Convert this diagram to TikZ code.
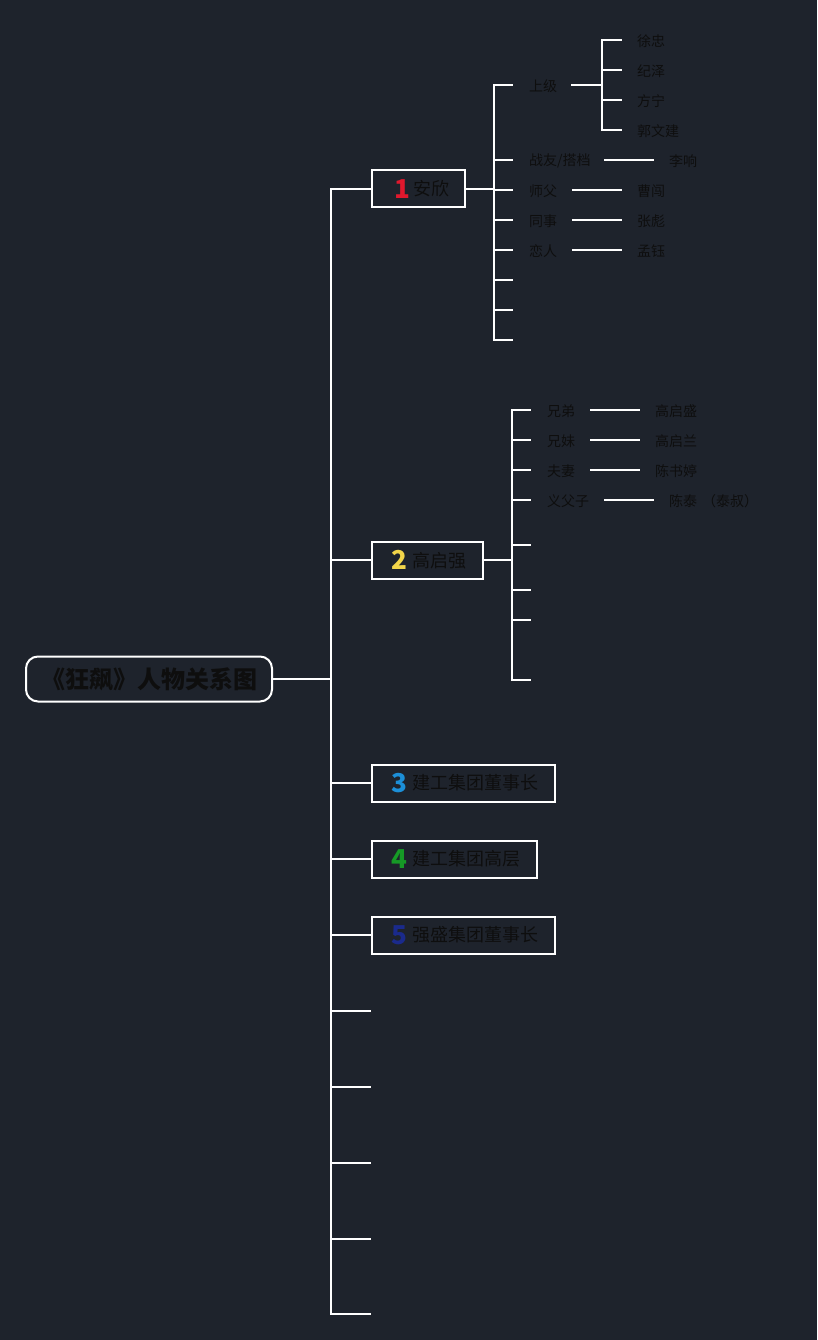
\documentclass[tikz,border=0pt]{standalone}
\usepackage{fontspec}
\setmainfont{Noto Sans CJK SC}
\definecolor{bg}{HTML}{1E232C}
\definecolor{txtc}{HTML}{0E0E0E}
\definecolor{cone}{HTML}{E0182D}
\definecolor{ctwo}{HTML}{F2D54A}
\definecolor{cthree}{HTML}{1C8FD8}
\definecolor{cfour}{HTML}{169A26}
\definecolor{cfive}{HTML}{1A2A8C}
\newcommand{\dig}[2]{\raisebox{-2.5pt}{\color{#1}\bfseries\fontsize{26}{26}\selectfont #2}}
\begin{document}
\begin{tikzpicture}[x=1pt,y=-1pt,
  ln/.style={draw=white,line width=2pt,line cap=rect},
  lbl/.style={text=txtc,font=\fontsize{14}{16}\selectfont,inner sep=0pt,anchor=west,yshift=-1pt},
  box/.style={draw=white,line width=2pt,minimum height=37pt,inner sep=0pt,text=txtc,
     font=\fontsize{18}{20}\selectfont,anchor=west,align=flush left}]
\fill[bg] (0,0) rectangle (817,1340);
\useasboundingbox (0,0) rectangle (817,1340);

% root
\node[draw=white,line width=2pt,rounded corners=12pt,minimum width=246pt,minimum height=45pt,anchor=west,inner sep=0pt,
      font=\bfseries\fontsize{24}{26}\selectfont,text=txtc] (root) at (25,679) {《狂飙》人物关系图};
\coordinate (sr) at (331,679);
\coordinate (st) at (331,189);
\coordinate (sb) at (331,1314);
\draw[ln] (root.east) -- (sr);
\draw[ln] (st) -- (sb);

% main boxes
\node[box,text width=93pt] (b1) at (371,189) {\hspace*{22pt}\dig{cone}{1}\hspace{4pt}安欣};
\node[box,text width=111pt] (b2) at (371,560) {\hspace*{19pt}\dig{ctwo}{2}\hspace{6pt}高启强};
\node[box,text width=183pt] (b3) at (371,783) {\hspace*{19pt}\dig{cthree}{3}\hspace{6pt}建工集团董事长};
\node[box,text width=165pt] (b4) at (371,859) {\hspace*{19pt}\dig{cfour}{4}\hspace{6pt}建工集团高层};
\node[box,text width=183pt] (b5) at (371,935) {\hspace*{19pt}\dig{cfive}{5}\hspace{6pt}强盛集团董事长};
\foreach \n/\y in {1/189,2/560,3/783,4/859,5/935}{
  \coordinate (j\n) at (331,\y);
  \draw[ln] (j\n) -- (b\n.west);
}
\foreach \n/\y in {6/1011,7/1087,8/1163,9/1239,10/1314}{
  \coordinate (j\n) at (331,\y);
  \coordinate (e\n) at (370,\y);
  \draw[ln] (j\n) -- (e\n);
}

% ---- box 1 subtree
\coordinate (ka) at (494,189);
\coordinate (kat) at (494,85);
\coordinate (kab) at (494,340);
\draw[ln] (b1.east) -- (ka);
\draw[ln] (kat) -- (kab);
\foreach \i/\y in {1/85,2/160,3/190,4/220,5/250,6/280,7/310,8/340}{
  \coordinate (ka\i) at (494,\y);
  \coordinate (kb\i) at (512,\y);
  \draw[ln] (ka\i) -- (kb\i);
}
\node[lbl] (sj) at (529,85) {上级};
\node[lbl] (zy) at (529,160) {战友/搭档};
\node[lbl] (sf) at (529,190) {师父};
\node[lbl] (ts) at (529,220) {同事};
\node[lbl] (lr) at (529,250) {恋人};

% 上级 children
\coordinate (sja) at (572,85);
\coordinate (sjb) at (602,85);
\coordinate (sjt) at (602,40);
\coordinate (sjbot) at (602,130);
\draw[ln] (sja) -- (sjb);
\draw[ln] (sjt) -- (sjbot);
\foreach \i/\y in {1/40,2/70,3/100,4/130}{
  \coordinate (sc\i) at (602,\y);
  \coordinate (sd\i) at (621,\y);
  \draw[ln] (sc\i) -- (sd\i);
}
\node[lbl] (xz) at (637,40) {徐忠};
\node[lbl] (jz) at (637,70) {纪泽};
\node[lbl] (fn) at (637,100) {方宁};
\node[lbl] (gwj) at (637,130) {郭文建};

% other relations of 安欣
\node[lbl] (lx) at (669,160) {李响};
\node[lbl] (cc) at (637,190) {曹闯};
\node[lbl] (zb) at (637,220) {张彪};
\node[lbl] (my) at (637,250) {孟钰};
\coordinate (zya) at (605,160); \coordinate (zyb) at (653,160);
\draw[ln] (zya) -- (zyb);
\foreach \p/\y in {sf/190,ts/220,lr/250}{
  \coordinate (\p a) at (573,\y); \coordinate (\p b) at (621,\y);
  \draw[ln] (\p a) -- (\p b);
}

% ---- box 2 subtree
\coordinate (ma) at (512,560);
\coordinate (mat) at (512,410);
\coordinate (mab) at (512,680);
\draw[ln] (b2.east) -- (ma);
\draw[ln] (mat) -- (mab);
\foreach \i/\y in {1/410,2/440,3/470,4/500,5/545,6/590,7/620,8/680}{
  \coordinate (ma\i) at (512,\y);
  \coordinate (mb\i) at (530,\y);
  \draw[ln] (ma\i) -- (mb\i);
}
\node[lbl] (xd) at (547,410) {兄弟};
\node[lbl] (xm) at (547,440) {兄妹};
\node[lbl] (fq) at (547,470) {夫妻};
\node[lbl] (yfz) at (547,500) {义父子};
\node[lbl] (gqs) at (655,410) {高启盛};
\node[lbl] (gql) at (655,440) {高启兰};
\node[lbl] (csz) at (655,470) {陈书婷};
\node[lbl] (ct) at (669,500) {陈泰\hspace{5pt}（泰叔）};
\foreach \p/\y in {xd/410,xm/440,fq/470}{
  \coordinate (\p a) at (591,\y); \coordinate (\p b) at (639,\y);
  \draw[ln] (\p a) -- (\p b);
}
\coordinate (yfza) at (605,500); \coordinate (yfzb) at (653,500);
\draw[ln] (yfza) -- (yfzb);
\end{tikzpicture}
\end{document}
